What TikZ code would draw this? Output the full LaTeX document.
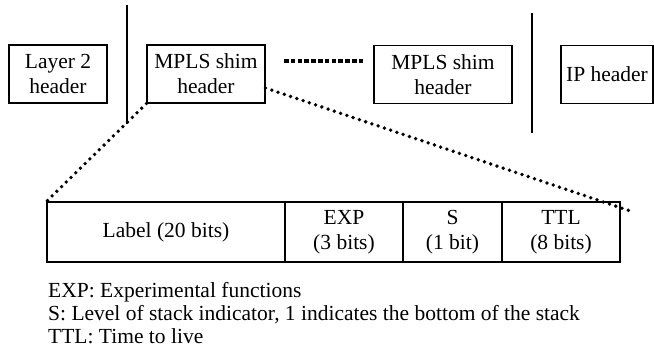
\documentclass[tikz,border=0pt]{standalone}
\usepackage{fontspec}
\setmainfont{Liberation Serif}
\usetikzlibrary{positioning}

\begin{document}
\begin{tikzpicture}[
		x=1pt, y=-1pt,
		hdr/.style={draw, line width=1.1pt, inner sep=0pt, minimum height=58pt, align=center, font=\fontsize{21.5}{25}\selectfont},
		cell/.style={draw, line width=1.1pt, inner sep=0pt, minimum height=60pt, align=center, font=\fontsize{21.5}{25}\selectfont},
		sep/.style={line width=1.1pt},
		zoomline/.style={line width=3.8pt, line cap=round, dash pattern=on 0pt off 6.6pt},
		gapline/.style={line width=4.2pt, dash pattern=on 4.6pt off 2.2pt},
		legend/.style={anchor=base west, inner sep=0pt, font=\fontsize{21.5}{25}\selectfont}
		]
		
		\useasboundingbox (0,0) rectangle (654,352);
		
		% --- PACKET HEADERS ---
		\node[hdr, minimum width=98pt] (l2) at (58,74) {Layer 2\\header};
		\node[hdr, minimum width=118pt] (shim1) at (206,74) {MPLS shim\\header};
		\node[hdr, minimum width=138pt] (shim2) at (443,74.5) {MPLS shim\\header};
		\node[hdr, minimum width=92pt] (ip) at (607,74.5) {IP header};
		
		% separators
		\coordinate (sepa1) at (127,5);
		\coordinate (sepa2) at (127,124);
		\coordinate (sepb1) at (532,13);
		\coordinate (sepb2) at (532,133);
		\draw[sep] (sepa1) -- (sepa2);
		\draw[sep] (sepb1) -- (sepb2);
		
		% more shim headers in between
		\coordinate (gapa) at (284,61);
		\coordinate (gapb) at (363,61);
		\draw[gapline] (gapa) -- (gapb);
		
		% --- SHIM HEADER FIELDS ---
		\node[cell, minimum width=238pt] (lbl) at (166,232) {Label (20 bits)};
		\node[cell, minimum width=118pt] (exp) at (344,232) {EXP\\(3 bits)};
		\node[cell, minimum width=99pt] (sbit) at (452.5,232) {S\\(1 bit)};
		\node[cell, minimum width=118pt] (ttl) at (561,232) {TTL\\(8 bits)};
		
		% zoom lines
		\coordinate (fanr) at ([yshift=-14pt]shim1.east);
		\coordinate (fane) at ([xshift=8pt,yshift=-9pt]ttl.north east);
		\draw[zoomline] (shim1.south west) -- (lbl.north west);
		\draw[zoomline] (fanr) -- (fane);
		
		% --- LEGEND ---
		\node[legend] (legexp) at (48,298) {EXP: Experimental functions};
		\node[legend] (legs) at (48,321) {S: Level of stack indicator, 1 indicates the bottom of the stack};
		\node[legend] (legttl) at (48,344) {TTL: Time to live};
		
	\end{tikzpicture}
\end{document}
